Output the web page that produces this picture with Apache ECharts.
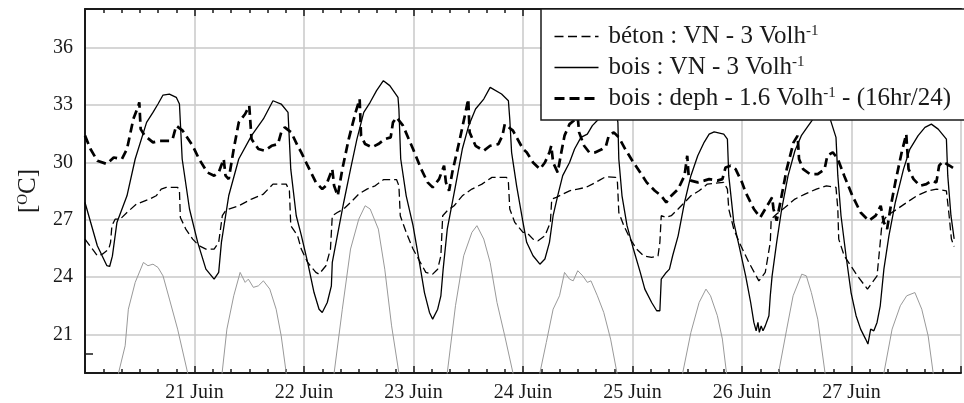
<!DOCTYPE html>
<html><head><meta charset="utf-8">
<script src="https://cdn.jsdelivr.net/npm/echarts@6/dist/echarts.min.js"></script>
<style>html,body{margin:0;padding:0;background:#fff}#c{width:964px;height:403px}</style>
</head><body><div id="c"></div><script>
// hours since 20 Juin 00:00, temperature [°C]
const dayLabels = ['20 Juin','21 Juin','22 Juin','23 Juin','24 Juin','25 Juin','26 Juin','27 Juin','28 Juin'];
const yTickValues = [21,24,27,30,33,36];
const seriesNames = ['béton : VN - 3 Volh', 'bois : VN - 3 Volh', 'bois : deph - 1.6 Volh'];
const legendSuffix = ['', '', ' - (16hr/24)'];

const beton = [
[0,25.99],[2.7,25.12],[3.8,25.2],[5.2,25.47],[5.6,25.82],[5.9,26.69],[6.6,27.03],[7.7,27.03],[9.2,27.38],[11.3,27.82],[14.2,28.08],[15.6,28.25],[16.7,28.6],[17.8,28.69],[20.3,28.69],[20.7,28.51],[20.9,27.12],[22.1,26.51],[23.6,25.99],[25.0,25.64],[26.5,25.47],[28.3,25.47],[29.3,25.82],[30.1,27.21],[30.8,27.47],[31.5,27.56],[33.7,27.73],[36.5,28.08],[39.1,28.34],[41.2,28.86],[44.1,28.86],[44.8,28.51],[45.1,26.69],[46.6,26.16],[47.4,25.47],[48.8,24.77],[50.6,24.25],[51.3,24.16],[52.8,24.6],[53.8,25.47],[54.2,27.21],[55.3,27.38],[56.7,27.56],[58.2,27.9],[60.0,28.34],[61.8,28.6],[63.6,28.77],[65.4,29.09],[68.3,29.09],[68.8,28.77],[69.1,27.21],[70.4,26.34],[71.9,25.47],[73.3,24.86],[74.7,24.25],[76.2,24.16],[77.3,24.42],[78.0,25.12],[78.4,27.21],[79.4,27.47],[80.9,27.73],[82.7,28.25],[84.8,28.6],[87.0,28.86],[89.2,29.21],[92.4,29.21],[92.8,28.95],[93.1,27.56],[94.2,26.86],[96.0,26.34],[96.8,26.34],[98.2,25.99],[99.3,25.9],[100.8,26.16],[102.0,26.86],[102.3,28.08],[103.3,28.17],[104.7,28.34],[106.2,28.51],[108.0,28.6],[109.8,28.69],[111.2,28.86],[112.6,29.04],[114.1,29.24],[116.3,29.21],[116.7,28.95],[117.0,27.38],[118.1,26.69],[119.5,25.99],[120.9,25.47],[122.4,25.12],[124.2,25.03],[125.6,25.12],[126.0,25.82],[126.3,27.21],[127.4,27.12],[128.5,27.21],[130.0,27.56],[131.4,27.9],[132.8,28.25],[134.6,28.51],[136.4,28.86],[140.0,28.95],[140.8,28.6],[141.1,27.56],[142.2,26.51],[143.4,25.82],[145.5,24.77],[147.7,23.81],[149.1,24.25],[150.2,25.82],[150.4,27.03],[151.6,27.3],[153.4,27.64],[155.6,28.08],[157.8,28.34],[160.3,28.6],[162.5,28.77],[164.6,28.69],[165.0,27.56],[165.2,25.99],[166.4,25.12],[169.3,24.07],[171.5,23.38],[173.6,24.07],[174.3,25.82],[174.7,26.86],[175.8,27.21],[178.0,27.56],[180.1,27.9],[182.3,28.25],[184.8,28.51],[186.6,28.6],[188.8,28.51],[189.4,27.21],[189.9,25.99],[190.5,25.6]
];

const boisVN = [
[0,27.9],[2.7,25.64],[4.8,24.6],[5.4,24.56],[6.0,25.1],[7.0,26.86],[9.2,28.25],[11.0,30.17],[13.5,32.08],[14.9,32.6],[16.0,33.04],[17.1,33.51],[18.5,33.56],[20.0,33.39],[20.7,33.04],[21.3,30.17],[22.9,27.56],[24.7,25.82],[26.5,24.42],[28.3,23.9],[29.3,24.25],[29.9,25.82],[31.5,28.25],[33.7,30.17],[36.5,31.39],[39.1,32.26],[41.2,33.21],[43.0,33.04],[44.5,32.6],[45.1,29.64],[46.3,27.21],[47.4,26.2],[48.8,24.77],[50.2,23.2],[51.3,22.33],[52.0,22.16],[53.1,22.68],[54.0,23.55],[54.2,24.77],[55.3,26.16],[56.7,27.9],[58.2,29.64],[59.6,31.21],[61.1,32.6],[62.5,33.13],[63.9,33.74],[65.4,34.26],[66.8,34.0],[68.6,33.39],[68.8,32.78],[69.2,30.17],[70.4,28.25],[71.9,26.69],[73.3,24.77],[74.4,23.2],[75.5,22.16],[76.2,21.81],[77.3,22.33],[78.0,23.03],[78.5,24.42],[79.4,26.51],[81.2,28.77],[82.7,30.69],[84.1,31.91],[85.6,32.78],[87.4,33.3],[88.8,33.91],[91.3,33.56],[92.8,33.21],[93.1,32.26],[93.5,30.52],[94.6,28.77],[96.0,26.86],[96.8,25.82],[98.2,25.12],[99.7,24.68],[100.8,24.95],[101.8,25.82],[102.6,27.21],[103.6,28.25],[104.7,29.3],[106.2,29.99],[107.3,30.69],[108.7,31.3],[110.1,31.47],[111.2,31.91],[112.6,32.26],[114.5,33.0],[116.0,33.2],[116.8,32.08],[117.0,30.17],[117.7,28.25],[118.8,26.69],[120.2,25.47],[121.7,24.25],[122.7,23.38],[124.2,22.68],[125.3,22.25],[126.0,22.25],[126.3,23.9],[127.4,24.25],[128.1,24.42],[128.8,25.12],[130.0,26.16],[131.4,27.9],[132.8,29.3],[134.3,30.34],[135.7,31.04],[136.8,31.47],[137.9,31.59],[140.0,31.47],[140.8,31.21],[141.1,29.3],[142.2,26.86],[143.4,25.6],[144.8,24.07],[145.9,22.68],[146.6,21.64],[147.1,21.2],[147.5,21.64],[147.8,21.12],[148.2,21.46],[148.6,21.2],[149.1,21.46],[149.9,21.99],[150.2,23.03],[150.6,24.07],[151.6,25.82],[152.7,27.56],[154.1,29.3],[155.6,30.6],[157.0,31.39],[158.5,31.9],[160.0,32.4],[161.5,32.8],[163.0,32.5],[164.6,31.3],[165.0,29.3],[165.7,27.21],[166.8,25.12],[167.9,23.2],[169.0,21.99],[170.0,21.29],[171.1,20.77],[171.6,20.51],[172.2,21.29],[172.9,21.2],[173.6,21.64],[174.3,22.51],[175.1,24.42],[176.2,26.16],[177.6,27.9],[179.4,29.64],[180.8,30.69],[182.6,31.39],[184.1,31.82],[185.5,31.99],[187.0,31.73],[188.8,31.21],[189.1,29.3],[189.8,27.21],[190.5,26.0]
];

const deph = [
[0,31.39],[1.2,30.69],[2.7,30.08],[4.8,29.91],[6.3,30.25],[8.1,30.17],[9.2,30.69],[10.6,32.26],[11.7,32.95],[11.9,33.13],[12.2,31.73],[13.1,31.39],[14.9,31.04],[16.4,31.12],[18.5,31.12],[19.2,31.21],[20.0,31.91],[20.3,31.94],[21.4,31.65],[23.6,30.86],[25.0,30.17],[26.8,29.47],[28.3,29.3],[29.3,29.47],[30.4,30.17],[30.8,29.3],[31.5,29.12],[32.6,30.69],[33.7,32.08],[35.1,32.52],[36.0,32.95],[36.5,31.21],[38.0,30.69],[39.4,30.6],[40.9,30.86],[42.3,30.95],[43.0,31.56],[43.8,31.82],[45.2,31.56],[46.6,30.86],[47.4,30.52],[48.8,29.82],[50.6,28.95],[52.0,28.6],[52.8,28.77],[54.2,29.64],[54.6,28.77],[55.4,28.25],[56.4,29.64],[57.8,31.21],[59.3,32.6],[60.2,33.3],[60.5,31.39],[61.4,30.95],[62.9,30.78],[64.3,30.95],[65.7,31.21],[67.0,31.3],[67.5,32.08],[68.3,32.34],[69.7,31.91],[71.9,30.69],[73.7,29.64],[75.1,28.95],[76.2,28.69],[77.6,29.12],[78.7,29.82],[79.1,28.95],[79.8,28.51],[80.5,29.47],[82.0,31.04],[83.4,32.6],[84.0,33.3],[84.3,31.56],[85.6,30.86],[87.4,30.6],[88.8,30.86],[90.6,30.95],[91.5,31.39],[92.0,31.99],[93.8,31.65],[96.0,30.69],[96.8,30.52],[98.2,29.99],[99.7,29.64],[100.8,29.99],[101.8,30.52],[102.2,30.86],[102.6,29.99],[103.6,29.47],[104.4,30.52],[105.1,31.39],[106.2,31.99],[108.0,32.34],[108.3,31.56],[109.4,30.86],[110.5,30.52],[111.9,30.52],[113.4,30.69],[114.2,30.86],[114.8,31.39],[115.9,31.56],[117.0,31.3],[118.4,30.69],[120.2,29.99],[121.7,29.47],[123.1,28.95],[124.9,28.51],[126.3,28.25],[127.4,27.9],[128.5,28.25],[130.0,28.6],[131.4,29.3],[132.0,30.34],[132.3,29.3],[132.8,29.04],[134.3,28.95],[135.7,29.04],[136.8,29.12],[138.6,29.04],[139.7,29.12],[140.4,29.73],[141.5,29.82],[142.6,29.64],[144.0,28.95],[144.8,28.43],[146.6,27.56],[148.0,27.12],[149.1,27.56],[150.6,28.17],[150.9,27.56],[151.6,26.95],[152.4,27.9],[153.8,29.64],[155.3,31.04],[156.2,31.39],[156.5,30.17],[157.4,29.64],[158.9,29.38],[160.6,29.38],[162.1,29.64],[162.7,30.34],[163.9,30.52],[165.0,30.17],[166.4,29.3],[168.2,28.25],[170.0,27.38],[171.8,26.95],[173.3,27.21],[174.4,27.73],[175.1,26.86],[175.8,26.51],[176.5,27.56],[177.6,28.95],[179.0,30.52],[180.0,31.47],[180.5,29.64],[181.6,29.12],[183.0,28.77],[184.4,28.86],[185.5,29.04],[186.6,28.95],[187.2,29.82],[188.0,30.03],[189.5,29.82],[191,29.6]
];

const exterieur = [
[0,15.5],[5.5,15.5],[7.35,19.0],[8.8,20.42],[9.5,22.33],[11.0,23.73],[12.8,24.77],[13.8,24.6],[14.9,24.68],[16.0,24.51],[17.1,24.07],[18.5,22.86],[20.3,21.29],[22.5,19.0],[26,15.5],[29,15.5],[30.05,19.0],[31.1,21.29],[32.6,23.03],[34.0,24.25],[35.1,23.73],[35.8,23.9],[36.9,23.47],[38.0,23.55],[39.1,23.81],[40.5,23.38],[41.9,22.33],[43.0,20.94],[44.1,19.0],[48,15.5],[53,15.5],[54.6,19.0],[56.4,22.33],[58.2,25.47],[60.0,27.03],[61.4,27.73],[62.5,27.56],[64.3,26.51],[65.7,24.42],[67.2,21.46],[68.8,19.0],[72,15.5],[78,15.5],[79.4,19.0],[81.2,22.51],[83.0,25.12],[84.8,26.34],[85.9,26.69],[87.4,25.99],[88.8,24.77],[90.3,22.68],[92.0,20.94],[93.8,19.0],[97,15.5],[98.5,15.5],[99.7,19.0],[101.1,20.59],[102.6,22.33],[104.0,23.03],[105.1,24.25],[106.2,23.9],[107.0,23.81],[108.0,24.34],[109.1,24.07],[110.1,23.73],[110.9,23.81],[112.3,23.03],[113.7,22.16],[115.2,20.77],[116.6,19.0],[120,15.5],[129.5,15.5],[131.0,19.0],[132.8,21.12],[134.6,22.68],[136.1,23.38],[137.1,23.03],[138.6,21.99],[139.7,20.77],[140.6,19.0],[144,15.5],[150.5,15.5],[152.0,19.0],[153.8,21.29],[155.2,23.03],[157.1,24.16],[158.1,24.07],[159.2,23.2],[160.6,21.81],[162.2,19.0],[166,15.5],[173.5,15.5],[175.1,19.0],[176.9,21.29],[178.7,22.51],[180.1,23.03],[181.9,23.2],[183.4,22.33],[184.8,20.94],[185.9,19.0],[189,15.5],[192,15.5]
];

const FONT = '"Liberation Serif","Times New Roman",serif';
const INK = '#1a1a1a';
const lineStyles = [
  { color: '#000', width: 1.3, type: [8, 4] },
  { color: '#000', width: 1.3, type: 'solid' },
  { color: '#000', width: 2.7, type: [9, 5] }
];
const legendLineStyles = [
  { color: '#000', width: 1.5, type: [9, 4.5] },
  { color: '#000', width: 1.5, type: 'solid' },
  { color: '#000', width: 3, type: [10, 5] }
];

function xAxisCfg(pos, showLabels) {
  return {
    type: 'value', min: 0, max: 192, interval: 24, position: pos,
    axisLine: { show: true, onZero: false, lineStyle: { color: INK, width: 2 } },
    axisTick: { show: true, inside: true, length: 7, lineStyle: { color: INK, width: 1.5 } },
    minorTick: { show: true, splitNumber: 6, length: 4, lineStyle: { color: INK, width: 1.5 } },
    splitLine: { show: showLabels, lineStyle: { color: '#c8c8c8', width: 1.5 } },
    axisLabel: {
      show: showLabels, margin: 10, color: INK, fontFamily: FONT, fontSize: 20,
      formatter: v => (v > 0 && v < 192) ? dayLabels[Math.round(v / 24)] : ''
    }
  };
}

const chart = echarts.init(document.getElementById('c'));
chart.setOption({
  animation: false,
  backgroundColor: '#fff',
  grid: { left: 85, right: -9, top: 9, bottom: 30 },
  xAxis: [xAxisCfg('bottom', true), xAxisCfg('top', false)],
  yAxis: [{
    type: 'value', min: 19, max: 38, position: 'left',
    axisLine: { show: true, onZero: false, lineStyle: { color: INK, width: 2 } },
    axisTick: { show: false, customValues: yTickValues },
    axisLabel: { customValues: yTickValues, margin: 12, color: INK, fontFamily: FONT, fontSize: 20 },
    splitLine: { show: true, lineStyle: { color: '#c8c8c8', width: 1.5 } },
    name: '[{sup|O}C]', nameLocation: 'middle', nameRotate: 90, nameGap: 44,
    nameTextStyle: { color: INK, fontFamily: FONT, fontSize: 25,
      rich: { sup: { fontFamily: FONT, fontSize: 15, verticalAlign: 'top', color: INK } } }
  }, {
    type: 'value', min: 19, max: 38, position: 'left',
    axisLine: { show: false },
    axisTick: { show: true, inside: true, length: 8, customValues: [20], lineStyle: { color: INK, width: 1.5 } },
    axisLabel: { show: false }, splitLine: { show: false }
  }],
  legend: {
    left: 541, top: 9, orient: 'vertical',
    backgroundColor: '#fff', borderColor: INK, borderWidth: 1.5, borderRadius: 0,
    padding: [15, 30, 9, 12], itemWidth: 44, itemHeight: 14, itemGap: 6,
    itemStyle: { opacity: 0 },
    data: seriesNames.map((n, i) => ({ name: n, lineStyle: legendLineStyles[i] })),
    textStyle: { color: INK, fontFamily: FONT, fontSize: 25, padding: [0, 0, 0, 5],
      rich: { sup: { fontFamily: FONT, fontSize: 15, verticalAlign: 'top', color: INK } } },
    formatter: name => { const i = seriesNames.indexOf(name); return name + '{sup|-1}' + legendSuffix[i]; }
  },
  series: [
    { name: seriesNames[0], type: 'line', data: beton, symbol: 'none', showSymbol: false, clip: true,
      lineStyle: lineStyles[0], itemStyle: { color: '#000' } },
    { name: seriesNames[1], type: 'line', data: boisVN, symbol: 'none', showSymbol: false, clip: true,
      lineStyle: lineStyles[1], itemStyle: { color: '#000' } },
    { name: seriesNames[2], type: 'line', data: deph, symbol: 'none', showSymbol: false, clip: true,
      lineStyle: lineStyles[2], itemStyle: { color: '#000' } },
    { name: 'ext', type: 'line', data: exterieur, symbol: 'none', showSymbol: false, clip: true, z: 1,
      lineStyle: { color: '#999', width: 1 }, itemStyle: { color: '#999' } }
  ]
});
</script></body></html>
